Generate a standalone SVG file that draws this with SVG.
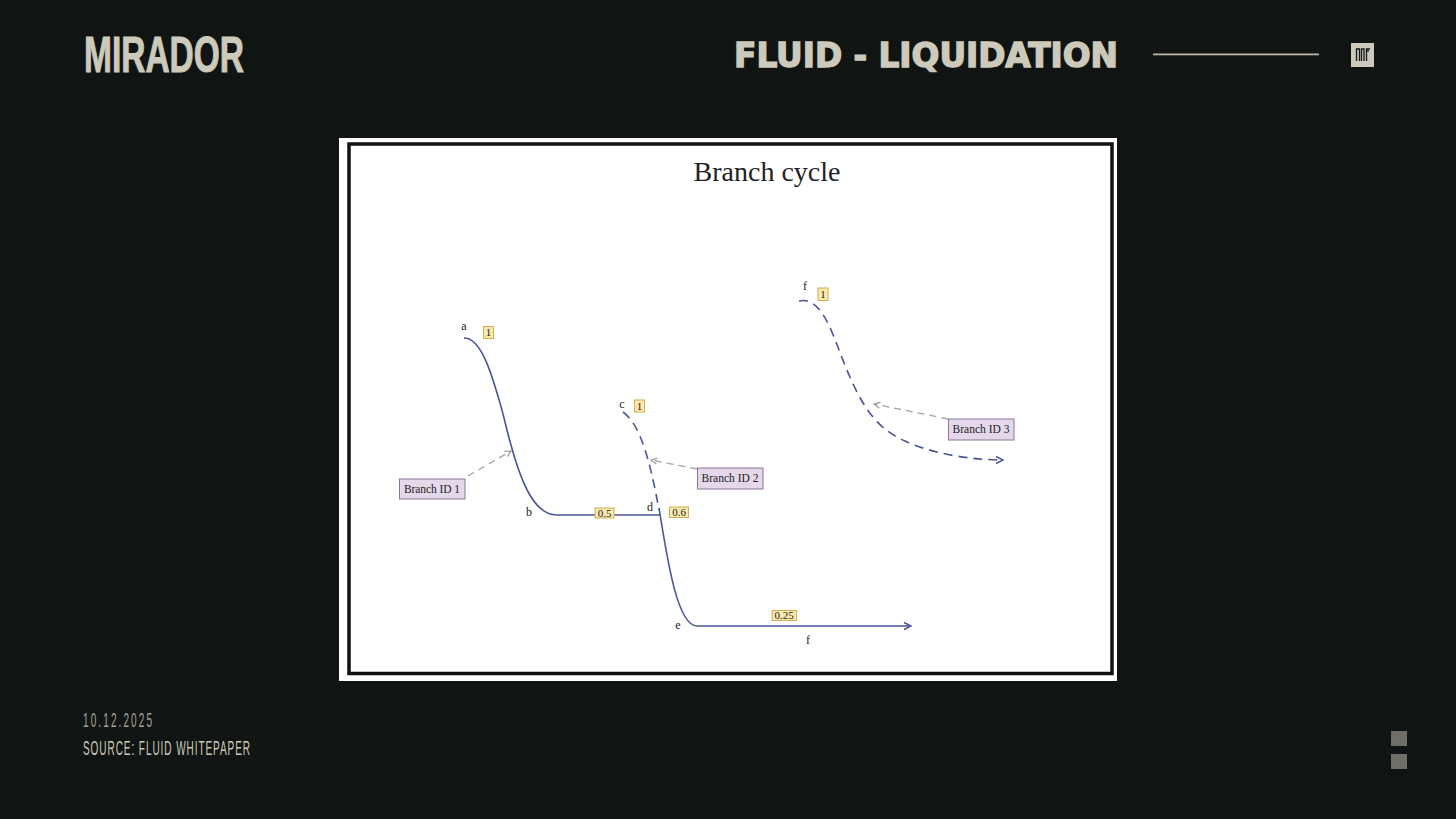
<svg xmlns="http://www.w3.org/2000/svg" width="1456" height="819" viewBox="0 0 1456 819">
<style>
.c{fill:#cdc9bb;font-family:"Liberation Sans",Arial,sans-serif}
.s{font-family:"Liberation Serif","Times New Roman",serif;fill:#222;text-anchor:middle}
.n{font-size:12px}
.t{font-size:11px}
.br{fill:#e4d8ea;stroke:#8d7499;stroke-width:1}
.lb{fill:#fbe8ad;stroke:#cfae55;stroke-width:1}
.cv{fill:none;stroke:#4a5599;stroke-width:1.6}
.da{stroke-dasharray:9 6}
.gr{fill:none;stroke:#a3a3a3;stroke-width:1.3;stroke-dasharray:7 5}
</style>
<defs>
<marker id="ab" markerUnits="userSpaceOnUse" markerWidth="12" markerHeight="12" refX="9" refY="5" orient="auto"><path d="M2 1.500L9 5L2 8.500" fill="none" stroke="#4a5599" stroke-width="1.4"/></marker>
<marker id="ag" markerUnits="userSpaceOnUse" markerWidth="12" markerHeight="12" refX="9" refY="5" orient="auto"><path d="M3 2L9 5L3 8" fill="none" stroke="#a3a3a3" stroke-width="1.3"/></marker>
</defs>
<rect width="1456" height="819" fill="#101514"/>
<g id="header">
<text class="c" x="84" y="72" font-size="50" font-weight="700" stroke="#cdc9bb" stroke-width="1" textLength="160" lengthAdjust="spacingAndGlyphs">MIRADOR</text>
<text class="c" x="734" y="67" font-size="33" font-weight="700" style="font-family:'DejaVu Sans',sans-serif" stroke="#cdc9bb" stroke-width="1.4" textLength="384" lengthAdjust="spacingAndGlyphs">FLUID - LIQUIDATION</text>
<rect x="1153" y="53.500" width="166" height="1.800" fill="#b9b5a8"/>
<rect x="1351" y="43" width="23" height="24" fill="#cdc9bb"/>
<path d="M1356.500 61V49H1359.500V61M1361.500 61V49H1364V61M1366.500 61V49H1370M1368 49V52" fill="none" stroke="#15191a" stroke-width="1.300"/>
</g>
<rect x="339" y="138" width="778" height="543" fill="#fff"/>
<rect x="349" y="144" width="763" height="529.500" fill="none" stroke="#111" stroke-width="3.500"/>
<text class="s" x="767" y="181" font-size="28">Branch cycle</text>
<g id="connectors">
<path class="cv" d="M464 338C481 338 491 372 500 403C505 420 507 432 511 445C522 485 535 515 557 515L660 515"/>
<path class="cv" marker-end="url(#ab)" d="M659 508C668 565 678 626 697 626L911 626"/>
<path class="cv da" d="M623 412C640 424 650 460 659 510"/>
<path class="cv da" marker-end="url(#ab)" d="M799 301C825 295 835 345 850 377C865 412 880 430 905 441C935 455 975 460 1003 460"/>
<path class="gr" marker-end="url(#ag)" d="M468 476L511 451"/>
<path class="gr" marker-end="url(#ag)" d="M697 469L651 460"/>
<path class="gr" marker-end="url(#ag)" d="M948 419L874 404"/>
</g>
<g id="node-a"><text class="s n" x="464" y="330">a</text></g>
<g id="node-b"><text class="s n" x="529" y="516">b</text></g>
<g id="node-c"><text class="s n" x="622" y="408">c</text></g>
<g id="node-d"><text class="s n" x="650" y="511">d</text></g>
<g id="node-e"><text class="s n" x="678" y="629">e</text></g>
<g id="node-f1"><text class="s n" x="808" y="644">f</text></g>
<g id="node-f2"><text class="s n" x="805" y="290">f</text></g>
<g id="label-a"><rect class="lb" x="483.500" y="326.500" width="10" height="12"/><text class="s t" x="488.500" y="336">1</text></g>
<g id="label-c"><rect class="lb" x="634.500" y="400" width="10" height="12"/><text class="s t" x="639.500" y="409.500">1</text></g>
<g id="label-f"><rect class="lb" x="818" y="288" width="10" height="12.500"/><text class="s t" x="823" y="298">1</text></g>
<g id="label-05"><rect class="lb" x="595" y="508" width="19" height="10"/><text class="s t" x="604.500" y="516.500">0.5</text></g>
<g id="label-06"><rect class="lb" x="669.500" y="507" width="19" height="10.500"/><text class="s t" x="679" y="516">0.6</text></g>
<g id="label-025"><rect class="lb" x="772" y="610.500" width="24.500" height="10"/><text class="s t" x="784" y="619">0.25</text></g>
<g id="branch-1"><rect class="br" x="399.500" y="479" width="65.500" height="20"/><text class="s" x="432" y="492.500" font-size="11.500" textLength="56">Branch ID 1</text></g>
<g id="branch-2"><rect class="br" x="697.500" y="468" width="65.500" height="21"/><text class="s" x="730" y="482" font-size="11.500" textLength="57">Branch ID 2</text></g>
<g id="branch-3"><rect class="br" x="948.500" y="419" width="65.500" height="21"/><text class="s" x="981" y="433" font-size="11.500" textLength="57">Branch ID 3</text></g>
<g id="footer">
<text class="c" transform="translate(83 727) scale(.5 1)" font-size="20" fill-opacity="0.8" textLength="138" lengthAdjust="spacing">10.12.2025</text>
<text class="c" transform="translate(83 754.500) scale(.5 1)" font-size="20" textLength="334" lengthAdjust="spacing">SOURCE: FLUID WHITEPAPER</text>
<rect x="1391" y="731" width="16" height="15" fill="#6f6f68"/>
<rect x="1391" y="754" width="16" height="15" fill="#6f6f68"/>
</g>
</svg>
